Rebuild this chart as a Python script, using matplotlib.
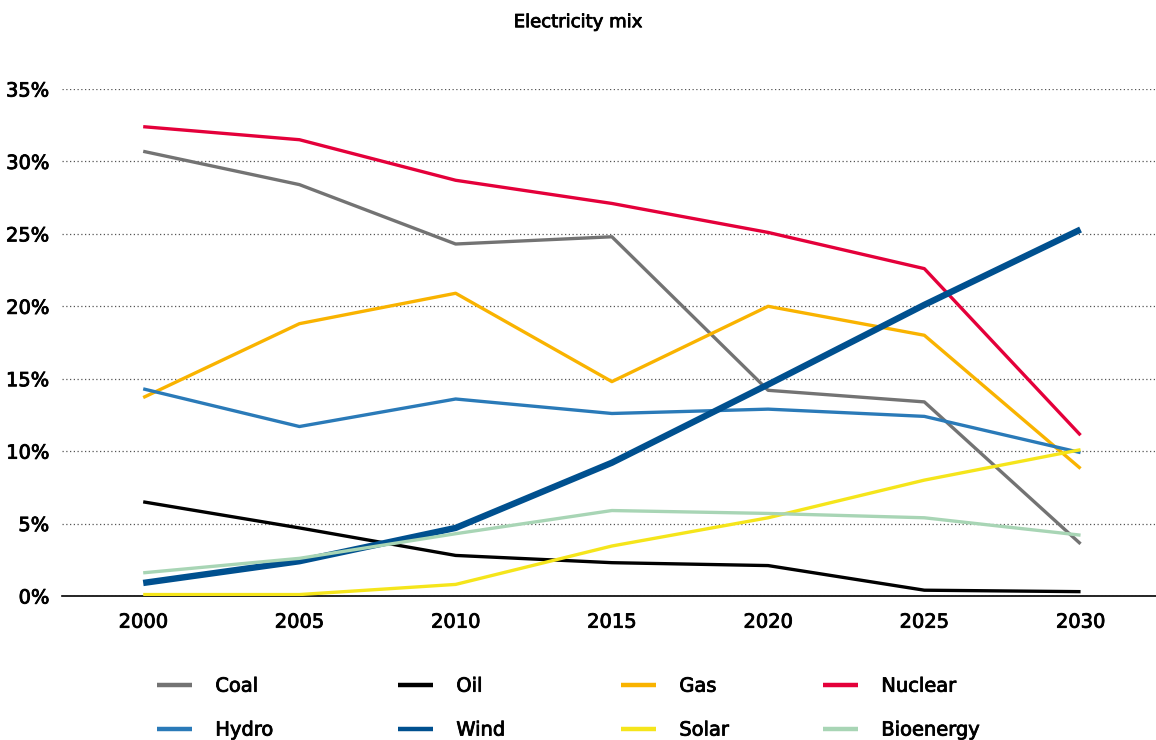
import matplotlib.pyplot as plt
import matplotlib.patheffects as pe
from matplotlib.ticker import FuncFormatter

years = [2000, 2005, 2010, 2015, 2020, 2025, 2030]

coal = [30.7, 28.4, 24.3, 24.8, 14.2, 13.4, 3.6]
oil = [6.5, 4.7, 2.8, 2.3, 2.1, 0.4, 0.3]
gas = [13.7, 18.8, 20.9, 14.8, 20.0, 18.0, 8.8]
nuclear = [32.4, 31.5, 28.7, 27.1, 25.1, 22.6, 11.1]
hydro = [14.3, 11.7, 13.6, 12.6, 12.9, 12.4, 9.9]
wind = [0.9, 2.4, 4.7, 9.2, 14.6, 20.1, 25.3]
solar = [0.1, 0.1, 0.8, 3.45, 5.4, 8.0, 10.1]
bioenergy = [1.6, 2.6, 4.3, 5.9, 5.7, 5.4, 4.2]

series = [
    ('Coal', coal, '#737373', 2.4),
    ('Oil', oil, '#000000', 2.4),
    ('Gas', gas, '#f9b300', 2.4),
    ('Nuclear', nuclear, '#e4003a', 2.4),
    ('Hydro', hydro, '#2a7ab8', 2.4),
    ('Wind', wind, '#00508f', 4.6),
    ('Solar', solar, '#f5e51b', 2.4),
    ('Bioenergy', bioenergy, '#a8d5b5', 2.4),
]

plt.rcParams['font.family'] = ['DejaVu Sans']
# a slightly heavier text than the regular weight
medium = [pe.withStroke(linewidth=0.6, foreground='black')]

fig = plt.figure(figsize=(11.56, 7.4), dpi=100)
ax = fig.add_axes([0.0536, 0.1946, 0.946, 0.6851])

lines = {}
for name, vals, color, lw in series:
    ln, = ax.plot(years, vals, color=color, lw=lw, label=name,
                  solid_capstyle='butt', zorder=3)
    lines[name] = ln

ax.set_xlim(1997.4, 2032.4)
ax.set_ylim(0, 35)
ax.set_xticks(years)
ax.set_yticks(range(0, 36, 5))
ax.yaxis.set_major_formatter(FuncFormatter(lambda v, p: f'{int(v)}%'))
ax.grid(axis='y', linestyle=(0, (1, 2)), color='#555555', lw=0.9)
ax.set_axisbelow(True)
for s in ['top', 'right', 'left']:
    ax.spines[s].set_visible(False)
ax.spines['bottom'].set_linewidth(1.2)
ax.tick_params(axis='both', length=0, labelsize=14)
ax.tick_params(axis='y', pad=9)
ax.tick_params(axis='x', pad=12)
for lab in ax.get_xticklabels() + ax.get_yticklabels():
    lab.set_path_effects(medium)

fig.text(0.5, 0.970, 'Electricity mix', ha='center', va='center',
         fontsize=13, path_effects=medium)

# legend: two rows, four columns, each column its own legend
columns = [('Coal', 'Hydro'), ('Oil', 'Wind'), ('Gas', 'Solar'),
           ('Nuclear', 'Bioenergy')]
col_x = [157, 398, 621, 823]
for names, x in zip(columns, col_x):
    leg = fig.legend([lines[n] for n in names], names, loc='upper left',
                     bbox_to_anchor=(x / 1156, 0.0856), frameon=False,
                     fontsize=14, borderpad=0, borderaxespad=0,
                     handlelength=1.8, handletextpad=1.2, labelspacing=1.28)
    for line in leg.get_lines():
        line.set_linewidth(3.2)
    for t in leg.get_texts():
        t.set_path_effects(medium)

fig.savefig('out.png', dpi=100)
